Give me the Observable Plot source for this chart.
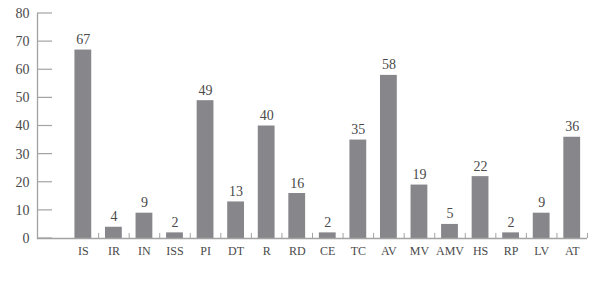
<!DOCTYPE html>
<html>
<head>
<meta charset="utf-8">
<script src="https://cdn.jsdelivr.net/npm/d3@7"></script>
<script src="https://cdn.jsdelivr.net/npm/@observablehq/plot@0.6"></script>
<style>
  html, body { margin: 0; padding: 0; background: #fff; }
  #chart svg { display: block; }
  #chart svg text { font-family: "Liberation Serif", serif; }
  #chart svg g[aria-label="y-axis tick label"] text { font-size: 14px; }
  #chart svg g[aria-label="x-axis tick label"] text { font-size: 12px; }
  #chart svg g[aria-label="text"] text { font-size: 14px; }
</style>
</head>
<body>
<div id="chart"></div>
<script>
const categories = ["IS","IR","IN","ISS","PI","DT","R","RD","CE","TC","AV","MV","AMV","HS","RP","LV","AT"];
const values = [67, 4, 9, 2, 49, 13, 40, 16, 2, 35, 58, 19, 5, 22, 2, 9, 36];
const yTicks = [0, 10, 20, 30, 40, 50, 60, 70, 80];

const data = categories.map((c, i) => ({cat: c, value: values[i]}));
const domain = [""].concat(categories);

const W = 600, H = 284, ML = 37, MR = 13, MT = 13, MB = 46;
const step = (W - ML - MR) / domain.length;
const axisColor = "#a3a3a3";
const textColor = "#4a4a4a";

// inward y-axis ticks drawn from the plot's own y scale
function yTickMarks(index, scales, values, dims) {
  const g = d3.create("svg:g").attr("aria-label", "y-axis inward ticks");
  for (const t of yTicks) {
    const y = scales.y(t);
    g.append("line")
      .attr("x1", dims.marginLeft).attr("x2", dims.marginLeft + 15)
      .attr("y1", y).attr("y2", y)
      .attr("stroke", axisColor).attr("stroke-width", 1.2);
  }
  return g.node();
}

const chart = Plot.plot({
  width: W,
  height: H,
  marginLeft: ML,
  marginRight: MR,
  marginTop: MT,
  marginBottom: MB,
  style: {fontFamily: "Liberation Serif, serif", fontSize: "14px", color: textColor, background: "#fff"},
  x: {domain, paddingInner: 0.45, paddingOuter: 0.225, align: 0.5, round: false},
  y: {domain: [0, 80]},
  marks: [
    Plot.barY(data, {x: "cat", y: "value", fill: "#87868b"}),
    Plot.ruleY([0], {stroke: axisColor, strokeWidth: 1.3}),
    Plot.frame({anchor: "left", stroke: axisColor, strokeWidth: 1.3}),
    Plot.ruleX(categories.slice(1), {x: d => d, y1: 0, y2: 1.8, dx: -step / 2, stroke: axisColor}),
    Plot.ruleX([categories[categories.length - 1]], {x: d => d, y1: 0, y2: 1.8, dx: step / 2, stroke: axisColor}),
    yTickMarks,
    Plot.axisY({ticks: yTicks, tickSize: 0, tickPadding: 8, fontSize: 14, fill: textColor, label: null}),
    Plot.axisX({tickSize: 0, tickPadding: 8, fontSize: 12, fill: textColor, label: null}),
    Plot.text(data, {x: "cat", y: "value", text: d => String(d.value), dy: -6, lineAnchor: "bottom", fontSize: 14, fill: textColor})
  ]
});
document.getElementById("chart").appendChild(chart);
</script>
</body>
</html>
